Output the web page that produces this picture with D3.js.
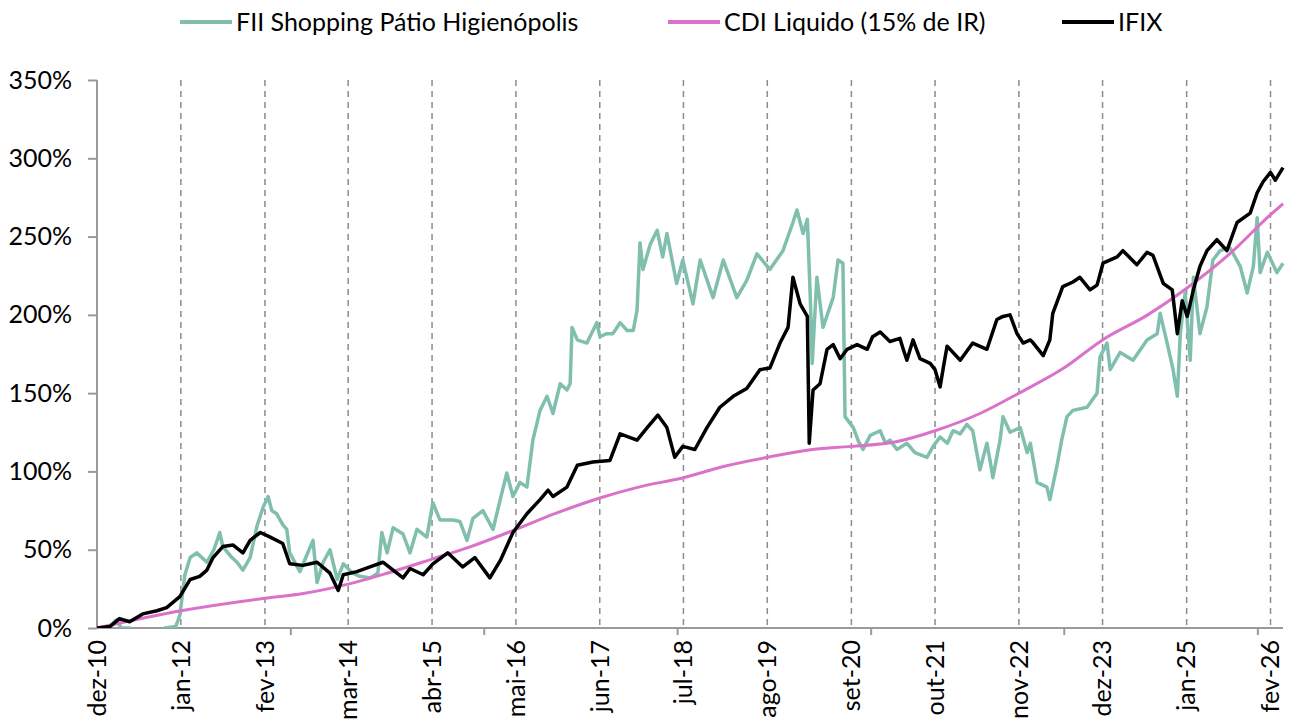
<!DOCTYPE html>
<html>
<head>
<meta charset="utf-8">
<script src="https://cdn.jsdelivr.net/npm/d3@7"></script>
<style>
  body { margin: 0; background: #fff; }
  svg text { font-family: Lato, "Noto Sans", sans-serif; fill: #000; }
</style>
</head>
<body>
<svg width="1294" height="723"></svg>
<script>
// FII Shopping Patio Higienopolis (retorno acumulado, %)
var fii = [
  ["2010-12-01",0],["2011-02-01",1],["2011-02-28",5],["2011-03-27",0],["2011-05-04",0],["2011-05-27",-3],
  ["2011-09-24",-3],["2011-10-17",0],["2011-12-08",1],["2011-12-27",8],["2012-01-20",34],["2012-02-14",45],
  ["2012-03-16",48],["2012-05-03",42],["2012-06-05",50],["2012-07-03",61],["2012-07-17",52],["2012-08-29",45],
  ["2012-09-22",42],["2012-10-20",37],["2012-11-23",45],["2012-12-25",65],["2013-01-23",77],["2013-02-16",84],
  ["2013-03-05",75],["2013-03-28",73],["2013-04-26",66],["2013-05-15",63],["2013-05-29",48],["2013-07-16",36],
  ["2013-08-13",45],["2013-09-16",56],["2013-10-05",29],["2013-11-03",42],["2013-12-05",50],["2014-01-08",31],
  ["2014-02-06",41],["2014-03-22",35],["2014-04-25",33],["2014-06-12",32],["2014-07-19",35],["2014-08-07",61],
  ["2014-09-01",48],["2014-09-29",64],["2014-11-15",60],["2014-12-18",48],["2015-01-20",63],["2015-03-07",58],
  ["2015-04-05",80],["2015-05-08",69],["2015-07-08",69],["2015-08-11",68],["2015-09-13",56],["2015-10-11",70],
  ["2015-11-27",75],["2016-01-14",63],["2016-02-17",82],["2016-03-19",99],["2016-04-17",84],["2016-05-20",93],
  ["2016-06-22",90],["2016-07-20",120],["2016-08-23",139],["2016-09-25",148],["2016-10-23",137],["2016-11-26",156],
  ["2016-12-28",152],["2017-01-12",156],["2017-01-21",192],["2017-02-15",184],["2017-04-01",182],["2017-05-18",195],
  ["2017-06-02",186],["2017-07-04",188],["2017-08-02",188],["2017-09-05",195],["2017-10-08",190],["2017-11-06",190],
  ["2017-11-24",203],["2017-12-08",246],["2017-12-22",229],["2018-01-25",245],["2018-02-27",254],["2018-03-25",237],
  ["2018-04-14",252],["2018-05-30",220],["2018-06-28",235],["2018-08-15",207],["2018-09-18",235],["2018-11-18",211],
  ["2019-01-05",235],["2019-03-10",211],["2019-04-26",222],["2019-06-13",239],["2019-08-13",229],["2019-10-14",241],
  ["2019-11-30",259],["2019-12-19",267],["2020-01-17",252],["2020-02-06",261],["2020-02-20",211],["2020-02-29",169],
  ["2020-03-22",224],["2020-04-20",192],["2020-06-07",211],["2020-06-30",235],["2020-07-23",233],["2020-08-02",135],
  ["2020-09-10",128],["2020-10-05",119],["2020-10-26",114],["2020-11-29",123],["2021-01-15",126],["2021-02-09",118],
  ["2021-03-02",120],["2021-04-04",114],["2021-05-21",118],["2021-06-28",112],["2021-08-24",109],["2021-09-22",116],
  ["2021-10-25",122],["2021-11-28",118],["2021-12-25",126],["2022-01-28",124],["2022-02-28",130],["2022-03-28",126],
  ["2022-05-01",101],["2022-06-03",118],["2022-06-19",106],["2022-07-01",96],["2022-08-04",120],["2022-08-18",135],
  ["2022-09-20",125],["2022-11-07",128],["2022-12-10",112],["2022-12-25",118],["2023-01-26",93],["2023-03-13",90],
  ["2023-03-27",82],["2023-04-29",103],["2023-05-22",120],["2023-06-16",135],["2023-07-14",139],["2023-09-19",141],
  ["2023-11-05",150],["2023-11-19",173],["2023-12-22",182],["2024-01-06",165],["2024-02-22",176],["2024-04-23",171],
  ["2024-06-28",184],["2024-08-15",188],["2024-08-29",201],["2024-10-01",182],["2024-10-29",165],["2024-11-18",148],
  ["2024-12-02",188],["2024-12-25",214],["2025-01-18",171],["2025-02-02",224],["2025-03-05",188],["2025-04-07",205],
  ["2025-05-05",235],["2025-06-08",241],["2025-07-24",243],["2025-09-11",231],["2025-10-14",214],["2025-11-12",231],
  ["2025-11-30",262],["2025-12-14",227],["2026-01-17",240],["2026-03-03",227],["2026-04-01",233]
];

// CDI liquido (15% de IR)
var cdi = [
  ["2010-12-01",0],["2012-01-01",11],["2013-02-01",19],["2013-08-01",22],["2014-03-01",28],["2014-09-01",35],
  ["2015-04-01",44],["2015-10-01",52],["2016-05-01",63],["2016-11-01",73],["2017-06-01",83],["2017-12-01",90],
  ["2018-07-01",96],["2019-01-01",103],["2019-08-01",109],["2020-03-01",114],["2020-09-01",116],["2021-04-01",119],
  ["2021-10-01",126],["2022-05-01",137],["2022-11-01",150],["2023-06-01",166],["2023-12-01",184],["2024-07-01",200],
  ["2025-01-01",217],["2025-08-01",240],["2026-02-01",264],["2026-04-01",271]
];

// IFIX
var ifix = [
  ["2010-12-01",0],["2011-02-01",1],["2011-03-17",6],["2011-05-04",4],["2011-07-05",9],["2011-09-10",11],
  ["2011-10-26",13],["2011-12-27",20],["2012-02-14",31],["2012-03-30",33],["2012-05-03",37],["2012-06-01",45],
  ["2012-07-17",52],["2012-09-04",53],["2012-10-20",48],["2012-11-23",56],["2013-01-10",61],["2013-02-26",58],
  ["2013-04-26",54],["2013-05-29",41],["2013-07-30",40],["2013-10-05",42],["2013-12-05",35],["2014-01-13",24],
  ["2014-02-06",34],["2014-04-11",36],["2014-06-12",39],["2014-08-12",42],["2014-11-15",32],["2014-12-18",38],
  ["2015-02-18",34],["2015-04-05",41],["2015-06-14",48],["2015-08-24",39],["2015-10-20",45],["2015-12-30",32],
  ["2016-02-17",43],["2016-04-17",61],["2016-06-22",73],["2016-08-23",82],["2016-09-30",88],["2016-10-23",84],
  ["2016-12-28",90],["2017-02-15",104],["2017-04-29",106],["2017-07-19",107],["2017-09-05",124],["2017-11-24",120],
  ["2018-01-11",128],["2018-03-02",136],["2018-04-14",128],["2018-05-21",109],["2018-06-28",116],["2018-08-24",114],
  ["2018-10-20",128],["2018-12-20",141],["2019-02-21",148],["2019-04-26",153],["2019-06-27",165],["2019-08-13",166],
  ["2019-09-30",182],["2019-11-07",192],["2019-11-30",224],["2020-01-03",207],["2020-02-06",199],["2020-02-15",118],
  ["2020-03-04",152],["2020-04-06",156],["2020-05-09",178],["2020-06-07",181],["2020-07-10",172],["2020-08-12",178],
  ["2020-09-28",181],["2020-11-15",178],["2020-12-10",186],["2021-01-15",189],["2021-03-02",183],["2021-04-18",185],
  ["2021-05-04",178],["2021-05-21",171],["2021-06-19",184],["2021-07-22",172],["2021-09-08",169],["2021-10-01",165],
  ["2021-10-25",154],["2021-11-10",167],["2021-11-27",180],["2022-01-28",171],["2022-03-28",182],["2022-06-03",178],
  ["2022-07-20",197],["2022-08-18",199],["2022-09-20",200],["2022-10-23",188],["2022-11-21",182],["2022-12-25",184],
  ["2023-01-08",182],["2023-02-24",174],["2023-03-27",184],["2023-04-10",201],["2023-05-27",218],["2023-07-14",221],
  ["2023-08-16",224],["2023-10-03",216],["2023-11-05",219],["2023-12-03",233],["2024-02-08",237],["2024-03-06",241],
  ["2024-05-11",232],["2024-06-28",240],["2024-07-26",238],["2024-09-13",220],["2024-10-25",216],["2024-11-18",188],
  ["2024-12-11",209],["2025-01-04",199],["2025-02-02",216],["2025-03-05",231],["2025-04-07",241],["2025-05-24",248],
  ["2025-07-10",241],["2025-08-27",259],["2025-10-28",265],["2025-11-30",278],["2025-12-28",285],["2026-02-01",291],
  ["2026-02-24",286],["2026-04-01",294]
];

var tickDates = ["2010-12-01","2012-01-01","2013-02-01","2014-03-01","2015-04-01","2016-05-01","2017-06-01",
  "2018-07-01","2019-08-01","2020-09-01","2021-10-01","2022-11-01","2023-12-01","2025-01-01","2026-02-01"];
var tickLabels = ["dez-10","jan-12","fev-13","mar-14","abr-15","mai-16","jun-17","jul-18","ago-19","set-20",
  "out-21","nov-22","dez-23","jan-25","fev-26"];
var minorTicks = ["2013-06-01","2015-12-01","2018-06-01","2020-12-01","2023-06-01","2025-12-01"];
var yTicks = [0, 50, 100, 150, 200, 250, 300, 350];

var seriesNames = ["FII Shopping Pátio Higienópolis", "CDI Liquido (15% de IR)", "IFIX"];
var seriesColors = ["#80bfad", "#da72c9", "#000000"];

var parse = d3.timeParse("%Y-%m-%d");
var plotL = 97, plotR = 1283, plotT = 80, plotB = 628;

var x = d3.scaleTime().domain([parse("2010-12-01"), parse("2026-04-01")]).range([plotL, plotR]);
var y = d3.scaleLinear().domain([0, 350]).range([plotB, plotT]);

var svg = d3.select("svg");

svg.append("defs").append("clipPath").attr("id", "plot")
  .append("rect").attr("x", plotL).attr("y", plotT - 5).attr("width", plotR - plotL + 5).attr("height", plotB - plotT + 5);

// dashed verticals at the labelled dates
svg.append("g").selectAll("line")
  .data(tickDates.slice(1))
  .enter().append("line")
  .attr("x1", function(d) { return x(parse(d)); })
  .attr("x2", function(d) { return x(parse(d)); })
  .attr("y1", plotT).attr("y2", plotB)
  .style("stroke", "#8c8c8c").style("stroke-width", "1.5px").style("stroke-dasharray", "6,5");

// y axis
var yAxis = svg.append("g").attr("transform", "translate(" + plotL + ",0)")
  .call(d3.axisLeft(y).tickValues(yTicks).tickSize(9).tickPadding(16).tickFormat(function(d) { return d + "%"; }));
yAxis.selectAll("text").style("font-size", "25px");

// x axis with minor ticks only
var xAxis = svg.append("g").attr("transform", "translate(0," + plotB + ")")
  .call(d3.axisBottom(x).tickValues(minorTicks.map(parse)).tickSize(7).tickFormat(""));

[yAxis, xAxis].forEach(function(g) {
  g.select(".domain").style("stroke", "#9a9a9a").style("stroke-width", "2px");
  g.selectAll(".tick line").style("stroke", "#9a9a9a").style("stroke-width", "2px");
});
xAxis.select(".domain").attr("d", "M" + plotL + ",0H" + plotR);
yAxis.select(".domain").attr("d", "M0," + plotT + "V" + plotB);

svg.append("g").selectAll("text")
  .data(tickDates)
  .enter().append("text")
  .attr("transform", function(d) { return "translate(" + x(parse(d)) + "," + (plotB + 12) + ") rotate(-90)"; })
  .attr("text-anchor", "end")
  .attr("dy", "0.35em")
  .style("font-size", "25px")
  .text(function(d, i) { return tickLabels[i]; });

var line = d3.line()
  .x(function(d) { return x(parse(d[0])); })
  .y(function(d) { return y(d[1]); });
var smooth = d3.line()
  .x(function(d) { return x(parse(d[0])); })
  .y(function(d) { return y(d[1]); })
  .curve(d3.curveMonotoneX);

var plot = svg.append("g").attr("clip-path", "url(#plot)");
plot.append("path").datum(fii).attr("d", line)
  .style("fill", "none").style("stroke", seriesColors[0]).style("stroke-width", "3.5px").style("stroke-linejoin", "round");
plot.append("path").datum(cdi).attr("d", smooth)
  .style("fill", "none").style("stroke", seriesColors[1]).style("stroke-width", "3px");
plot.append("path").datum(ifix).attr("d", line)
  .style("fill", "none").style("stroke", seriesColors[2]).style("stroke-width", "3.5px").style("stroke-linejoin", "round");

// legend
var legendX = [180, 668, 1062];
var legend = svg.append("g").selectAll("g")
  .data(seriesNames)
  .enter().append("g")
  .attr("transform", function(d, i) { return "translate(" + legendX[i] + ",22)"; });
legend.append("line").attr("x1", 0).attr("x2", 52).attr("y1", 0).attr("y2", 0)
  .style("stroke", function(d, i) { return seriesColors[i]; }).style("stroke-width", "4px");
legend.append("text").attr("x", 56).attr("dy", "0.35em").style("font-size", "25px")
  .text(function(d) { return d; });
</script>
</body>
</html>
